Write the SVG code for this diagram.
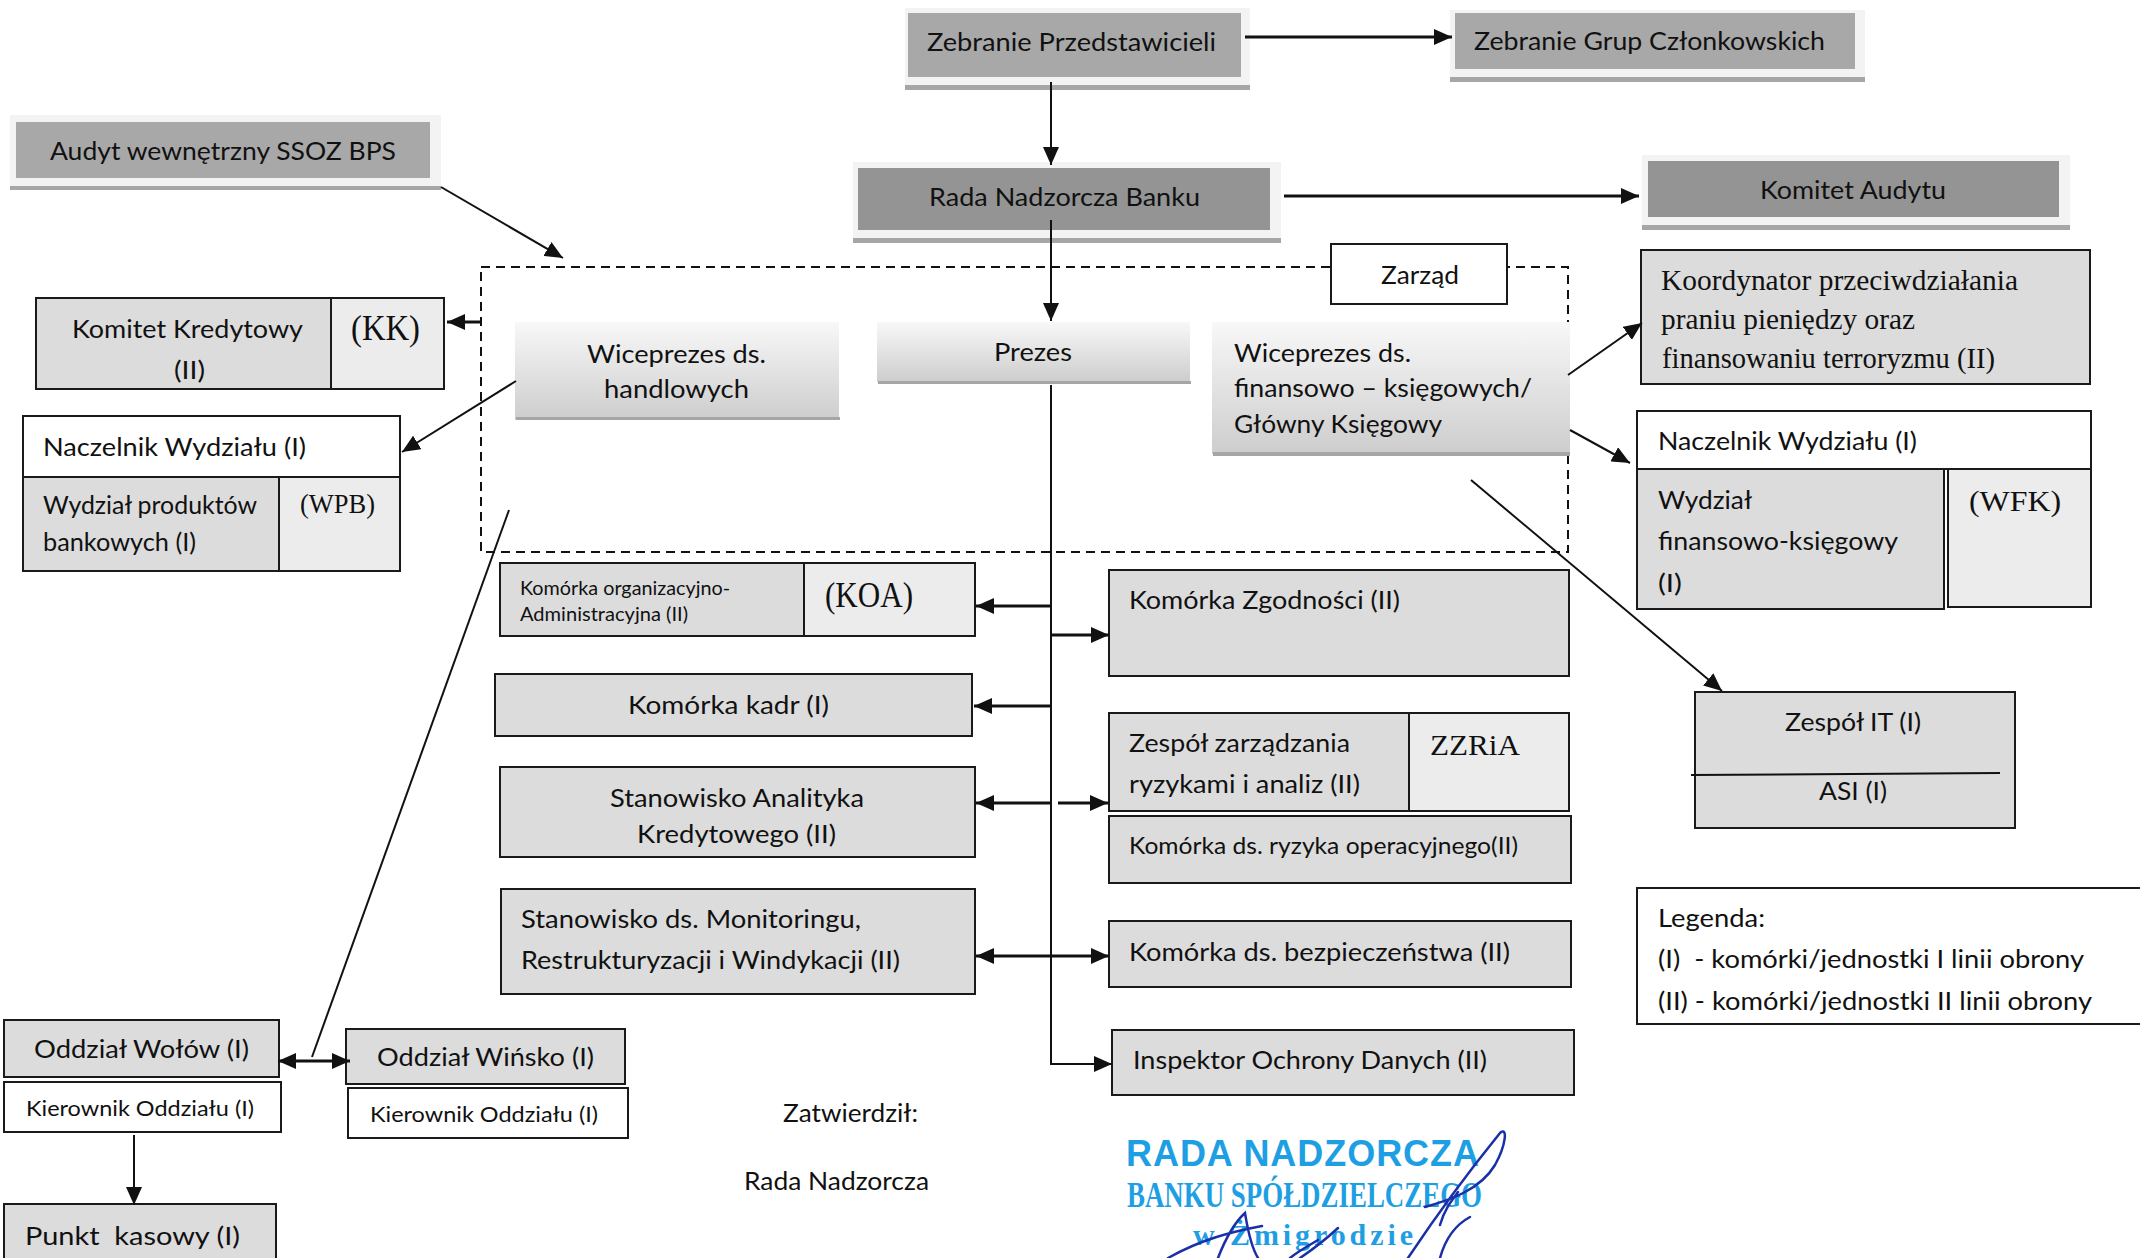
<svg xmlns="http://www.w3.org/2000/svg" width="2140" height="1258" viewBox="0 0 2140 1258">
<style>
text{font-family:"Lato","Carlito","Liberation Sans",sans-serif;font-size:25px;fill:#111;white-space:pre}
.s{font-size:21.500px}.xs{font-size:19px}
.m{font-family:"Liberation Serif",serif;font-size:27px}.b{font-size:35px}.c{font-size:29px}
.box{stroke:#1a1a1a;stroke-width:2;fill:#dcdcdc}.w{fill:#fff}.z{fill:#ececec}
.d{fill:#a8a8a8;stroke:none}.r{fill:#949494;stroke:none}.halo{fill:#f3f3f3;stroke:none}.sh{fill:#a6a6a6;stroke:none}
.g{stroke:none;fill:url(#lg)}
.l{fill:none;stroke:#111;stroke-width:2}.t{stroke-width:3}
.st{fill:#1f9fe3;font-weight:700}
.sig{fill:none;stroke:#1a2fa8;stroke-width:2.500;stroke-linecap:round}
</style>
<defs>
<linearGradient id="lg" x1="0" y1="0" x2="0" y2="1"><stop offset="0" stop-color="#f8f8f8"/><stop offset="1" stop-color="#cdcdcd"/></linearGradient>
<marker id="a" markerUnits="userSpaceOnUse" markerWidth="20" markerHeight="16" refX="18" refY="8" orient="auto"><path d="M0 0L18 8L0 16Z" fill="#111"/></marker>
<marker id="as" markerUnits="userSpaceOnUse" markerWidth="18" markerHeight="16" refX="0" refY="8" orient="auto"><path d="M18 0L0 8L18 16Z" fill="#111"/></marker>
</defs>

<g id="zarzad-frame"><rect x="481" y="267" width="1087" height="285" fill="none" stroke="#111" stroke-width="2" stroke-dasharray="9 6"/></g>

<g id="zebranie-przedstawicieli"><rect class="halo" x="905" y="8" width="345" height="80"/><rect class="d" x="908" y="13" width="333" height="64"/><rect class="sh" x="905" y="85" width="345" height="5"/><text x="927" y="51" textLength="289" lengthAdjust="spacingAndGlyphs">Zebranie Przedstawicieli</text></g>
<g id="zebranie-grup"><rect class="halo" x="1450" y="10" width="415" height="68"/><rect class="d" x="1455" y="13" width="400" height="56"/><rect class="sh" x="1450" y="77" width="415" height="5"/><text x="1474" y="50" textLength="351" lengthAdjust="spacingAndGlyphs">Zebranie Grup Członkowskich</text></g>
<g id="rada-nadzorcza-banku"><rect class="halo" x="853" y="162" width="428" height="78"/><rect class="r" x="858" y="168" width="412" height="62"/><rect class="sh" x="853" y="238" width="428" height="5"/><text x="929" y="206" textLength="271" lengthAdjust="spacingAndGlyphs">Rada Nadzorcza Banku</text></g>
<g id="komitet-audytu"><rect class="halo" x="1642" y="155" width="428" height="72"/><rect class="r" x="1648" y="161" width="411" height="56"/><rect class="sh" x="1642" y="225" width="428" height="5"/><text x="1760" y="199" textLength="186" lengthAdjust="spacingAndGlyphs">Komitet Audytu</text></g>
<g id="audyt"><rect class="halo" x="10" y="115" width="431" height="72"/><rect class="d" x="16" y="122" width="414" height="56"/><rect class="sh" x="10" y="186" width="431" height="4"/><text x="50" y="160" textLength="346" lengthAdjust="spacingAndGlyphs">Audyt wewnętrzny SSOZ BPS</text></g>

<g id="zarzad"><rect class="box w" x="1331" y="244" width="176" height="60"/><text x="1381" y="284" textLength="78" lengthAdjust="spacingAndGlyphs">Zarząd</text></g>

<g id="wiceprezes-handlowych"><rect class="g" x="515" y="322" width="324" height="98"/><rect class="sh" x="516" y="417" width="324" height="3"/><text x="587" y="363" textLength="179" lengthAdjust="spacingAndGlyphs">Wiceprezes ds.</text><text x="604" y="398" textLength="145" lengthAdjust="spacingAndGlyphs">handlowych</text></g>
<g id="prezes"><rect class="g" x="877" y="322" width="313" height="60"/><rect class="sh" x="878" y="381" width="313" height="3"/><text x="994" y="361" textLength="78" lengthAdjust="spacingAndGlyphs">Prezes</text></g>
<g id="wiceprezes-finansowych"><rect class="g" x="1212" y="322" width="358" height="132"/><rect class="sh" x="1213" y="452" width="357" height="4"/><text x="1234" y="362" textLength="177" lengthAdjust="spacingAndGlyphs">Wiceprezes ds.</text><text x="1234" y="397" textLength="298" lengthAdjust="spacingAndGlyphs">finansowo – księgowych/</text><text x="1234" y="433" textLength="208" lengthAdjust="spacingAndGlyphs">Główny Księgowy</text></g>

<g id="koordynator"><rect class="box" x="1641" y="250" width="449" height="134"/><text class="m c" x="1661" y="290" textLength="357" lengthAdjust="spacingAndGlyphs">Koordynator przeciwdziałania</text><text class="m c" x="1661" y="329" textLength="254" lengthAdjust="spacingAndGlyphs">praniu pieniędzy oraz</text><text class="m c" x="1662" y="368" textLength="333" lengthAdjust="spacingAndGlyphs">finansowaniu terroryzmu (II)</text></g>

<g id="wydzial-wfk"><rect class="box w" x="1637" y="411" width="454" height="58"/><text x="1658" y="450" textLength="259" lengthAdjust="spacingAndGlyphs">Naczelnik Wydziału (I)</text><rect class="box" x="1637" y="469" width="307" height="140"/><rect class="box z" x="1948" y="469" width="143" height="138"/><text x="1658" y="509" textLength="94" lengthAdjust="spacingAndGlyphs">Wydział</text><text x="1658" y="550" textLength="240" lengthAdjust="spacingAndGlyphs">finansowo-księgowy</text><text x="1658" y="592" textLength="24" lengthAdjust="spacingAndGlyphs">(I)</text><text class="m c" x="1969" y="511" textLength="92" lengthAdjust="spacingAndGlyphs">(WFK)</text></g>

<g id="zespol-it"><rect class="box" x="1695" y="692" width="320" height="136"/><path class="l" d="M1691 775L2000 773"/><text x="1785" y="731" textLength="136" lengthAdjust="spacingAndGlyphs">Zespół IT (I)</text><text x="1819" y="800" textLength="68" lengthAdjust="spacingAndGlyphs">ASI (I)</text></g>

<g id="legenda"><path d="M2141 888H1637V1024H2141" fill="#fff" stroke="#1a1a1a" stroke-width="2"/><text x="1658" y="927" textLength="107" lengthAdjust="spacingAndGlyphs">Legenda:</text><text x="1658" y="968" textLength="426" lengthAdjust="spacingAndGlyphs">(I)  - komórki/jednostki I linii obrony</text><text x="1658" y="1010" textLength="434" lengthAdjust="spacingAndGlyphs">(II) - komórki/jednostki II linii obrony</text></g>

<g id="komitet-kredytowy"><rect class="box" x="36" y="298" width="295" height="91"/><rect class="box z" x="331" y="298" width="113" height="91"/><text x="72" y="338" textLength="231" lengthAdjust="spacingAndGlyphs">Komitet Kredytowy</text><text x="174" y="379" textLength="31" lengthAdjust="spacingAndGlyphs">(II)</text><text class="m b" x="351" y="340" textLength="69" lengthAdjust="spacingAndGlyphs">(KK)</text></g>

<g id="wydzial-wpb"><rect class="box w" x="23" y="416" width="377" height="61"/><rect class="box" x="23" y="477" width="256" height="94"/><rect class="box z" x="279" y="477" width="121" height="94"/><text x="43" y="456" textLength="263" lengthAdjust="spacingAndGlyphs">Naczelnik Wydziału (I)</text><text x="43" y="514" textLength="214" lengthAdjust="spacingAndGlyphs">Wydział produktów</text><text x="43" y="551" textLength="153" lengthAdjust="spacingAndGlyphs">bankowych (I)</text><text class="m" x="300" y="513" textLength="75" lengthAdjust="spacingAndGlyphs">(WPB)</text></g>

<g id="komorka-koa"><rect class="box" x="500" y="563" width="304" height="73"/><rect class="box z" x="804" y="563" width="171" height="73"/><text class="xs" x="520" y="595" textLength="210" lengthAdjust="spacingAndGlyphs">Komórka organizacyjno-</text><text class="xs" x="520" y="621" textLength="168" lengthAdjust="spacingAndGlyphs">Administracyjna (II)</text><text class="m b" x="825" y="607" textLength="88" lengthAdjust="spacingAndGlyphs">(KOA)</text></g>
<g id="komorka-kadr"><rect class="box" x="495" y="674" width="477" height="62"/><text x="628" y="714" textLength="201" lengthAdjust="spacingAndGlyphs">Komórka kadr (I)</text></g>
<g id="analityk"><rect class="box" x="500" y="767" width="475" height="90"/><text x="610" y="807" textLength="254" lengthAdjust="spacingAndGlyphs">Stanowisko Analityka</text><text x="637" y="843" textLength="199" lengthAdjust="spacingAndGlyphs">Kredytowego (II)</text></g>
<g id="monitoring"><rect class="box" x="501" y="889" width="474" height="105"/><text x="521" y="928" textLength="340" lengthAdjust="spacingAndGlyphs">Stanowisko ds. Monitoringu,</text><text x="521" y="969" textLength="379" lengthAdjust="spacingAndGlyphs">Restrukturyzacji i Windykacji (II)</text></g>

<g id="komorka-zgodnosci"><rect class="box" x="1109" y="570" width="460" height="106"/><text x="1129" y="609" textLength="271" lengthAdjust="spacingAndGlyphs">Komórka Zgodności (II)</text></g>
<g id="zespol-zzria"><rect class="box" x="1109" y="713" width="300" height="98"/><rect class="box z" x="1409" y="713" width="160" height="98"/><text x="1129" y="752" textLength="221" lengthAdjust="spacingAndGlyphs">Zespół zarządzania</text><text x="1129" y="793" textLength="231" lengthAdjust="spacingAndGlyphs">ryzykami i analiz (II)</text><text class="m" x="1430" y="755" textLength="90" lengthAdjust="spacingAndGlyphs" style="font-size:30px">ZZRiA</text></g>
<g id="ryzyko-operacyjne"><rect class="box" x="1109" y="816" width="462" height="67"/><text class="s" x="1129" y="854" textLength="389" lengthAdjust="spacingAndGlyphs" style="font-size:24px">Komórka ds. ryzyka operacyjnego(II)</text></g>
<g id="bezpieczenstwo"><rect class="box" x="1109" y="921" width="462" height="66"/><text x="1129" y="961" textLength="381" lengthAdjust="spacingAndGlyphs">Komórka ds. bezpieczeństwa (II)</text></g>
<g id="inspektor"><rect class="box" x="1112" y="1030" width="462" height="65"/><text x="1133" y="1069" textLength="354" lengthAdjust="spacingAndGlyphs">Inspektor Ochrony Danych (II)</text></g>

<g id="oddzial-wolow"><rect class="box" x="4" y="1020" width="275" height="57"/><text x="34" y="1058" textLength="215" lengthAdjust="spacingAndGlyphs">Oddział Wołów (I)</text><rect class="box w" x="4" y="1082" width="277" height="50"/><text class="s" x="26" y="1116" textLength="228" lengthAdjust="spacingAndGlyphs">Kierownik Oddziału (I)</text></g>
<g id="oddzial-winsko"><rect class="box" x="346" y="1029" width="279" height="55"/><text x="377" y="1066" textLength="217" lengthAdjust="spacingAndGlyphs">Oddział Wińsko (I)</text><rect class="box w" x="348" y="1088" width="280" height="50"/><text class="s" x="370" y="1122" textLength="228" lengthAdjust="spacingAndGlyphs">Kierownik Oddziału (I)</text></g>
<g id="punkt-kasowy"><rect class="box" x="4" y="1204" width="272" height="60"/><text x="25" y="1245" textLength="215" lengthAdjust="spacingAndGlyphs">Punkt  kasowy (I)</text></g>

<g id="zatwierdzil"><text x="783" y="1122" textLength="135" lengthAdjust="spacingAndGlyphs">Zatwierdził:</text><text x="744" y="1190" textLength="185" lengthAdjust="spacingAndGlyphs">Rada Nadzorcza</text></g>

<g id="connectors">
<path class="l" d="M1051 82V165" marker-end="url(#a)"/>
<path class="l t" d="M1245 37H1452" marker-end="url(#a)"/>
<path class="l t" d="M1284 196H1639" marker-end="url(#a)"/>
<path class="l" d="M1051 220V321" marker-end="url(#a)"/>
<path class="l" d="M441 187L563 258" marker-end="url(#a)"/>
<path class="l t" d="M482 322H447" marker-end="url(#a)"/>
<path class="l" d="M516 381L402 452" marker-end="url(#a)"/>
<path class="l" d="M509 510L312 1057"/>
<path class="l" d="M1568 375L1642 323" marker-end="url(#a)"/>
<path class="l" d="M1570 430L1630 463" marker-end="url(#a)"/>
<path class="l" d="M1471 480L1722 691" marker-end="url(#a)"/>
<path class="l" d="M1051 385V1064H1112" marker-end="url(#a)"/>
<path class="l t" d="M1051 606H976" marker-end="url(#a)"/>
<path class="l t" d="M1051 635H1109" marker-end="url(#a)"/>
<path class="l t" d="M1051 706H974" marker-end="url(#a)"/>
<path class="l t" d="M1051 803H976" marker-end="url(#a)"/>
<path class="l t" d="M1058 803H1108" marker-end="url(#a)"/>
<path class="l t" d="M976 956H1109" marker-start="url(#as)" marker-end="url(#a)"/>
<path class="l t" d="M278 1061H350" marker-start="url(#as)" marker-end="url(#a)"/>
<path class="l" d="M134 1135V1205" marker-end="url(#a)"/>
</g>

<g id="pieczec">
<text class="st" x="1126" y="1166" textLength="353" lengthAdjust="spacing" style="font-family:'Liberation Sans',sans-serif;font-size:36px">RADA NADZORCZA</text>
<text class="st" x="1127" y="1207" textLength="355" lengthAdjust="spacingAndGlyphs" style="font-family:'Liberation Serif',serif;font-size:36px">BANKU SPÓŁDZIELCZEGO</text>
<text class="st" x="1193" y="1245" textLength="220" lengthAdjust="spacing" style="font-family:'Liberation Serif',serif;font-size:30px">w Żmigrodzie</text>
<path class="sig" d="M1408 1258C1440 1210 1470 1170 1500 1133C1508 1126 1506 1145 1495 1165C1480 1190 1450 1200 1425 1207M1440 1225C1444 1210 1452 1200 1458 1192M1440 1258C1445 1240 1455 1225 1470 1217"/>
<path class="sig" d="M1168 1258C1200 1240 1230 1232 1262 1226M1218 1258C1225 1240 1235 1222 1245 1213C1247 1225 1250 1245 1258 1258M1290 1258C1300 1250 1310 1245 1318 1240M1300 1258C1315 1248 1325 1240 1338 1228"/>
</g>
</svg>
